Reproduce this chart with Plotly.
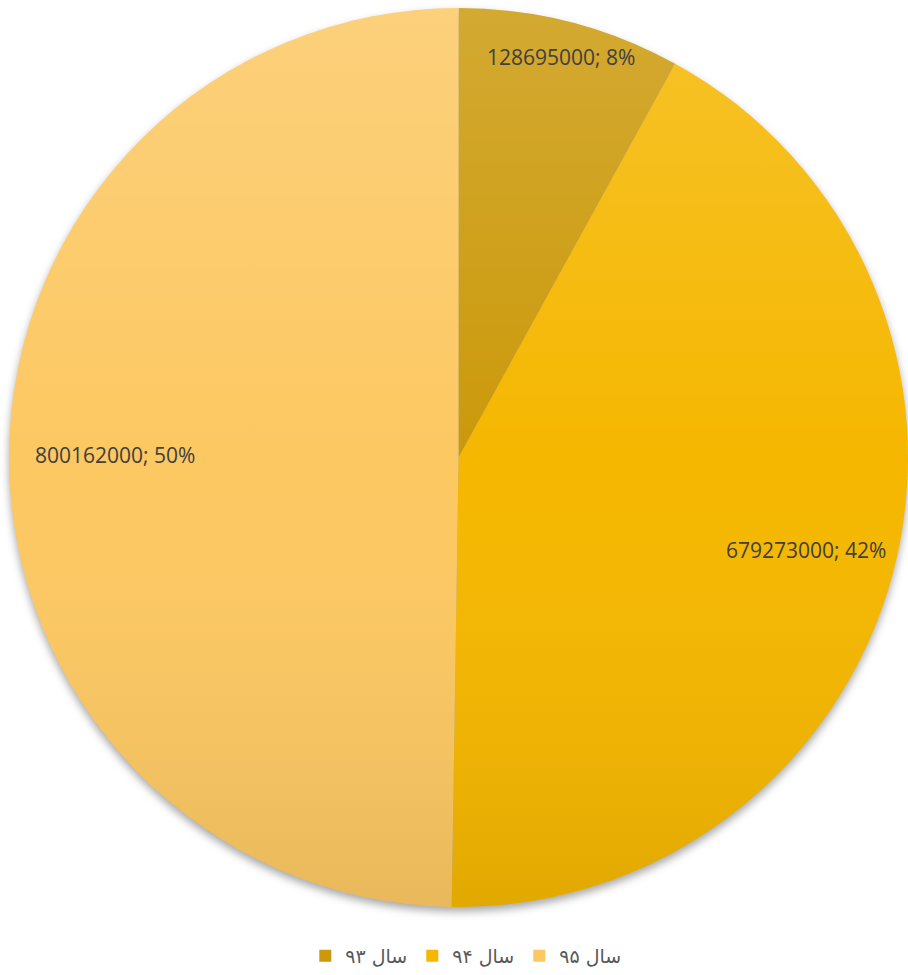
import base64
import math
import plotly.graph_objects as go

# Budget per year
categories = ["سال ۹۳", "سال ۹۴", "سال ۹۵"]
values = [128695000, 679273000, 800162000]
colors = ["#CB990A", "#F5B700", "#FCC862"]

# radial position of each value label (fraction of radius)
label_radius = [0.92, 0.80, 0.765]

W, H = 908, 975
dom_x = [0.01, 1.0]
dom_y = [(H - 907.5) / H, (H - 7.5) / H]

cx = (dom_x[0] + dom_x[1]) / 2
cy = (dom_y[0] + dom_y[1]) / 2
r_px = min((dom_x[1] - dom_x[0]) * W, (dom_y[1] - dom_y[0]) * H) / 2

fig = go.Figure(
    go.Pie(
        labels=categories,
        values=values,
        sort=False,
        direction="clockwise",
        rotation=0,
        textinfo="none",
        marker=dict(colors=colors, line=dict(width=0)),
        domain=dict(x=dom_x, y=dom_y),
        hoverinfo="label+value+percent",
    )
)

# value labels at mid-angle of each slice
total = sum(values)
cum = 0
annotations = []
for v, f in zip(values, label_radius):
    mid = (cum + v / 2) / total * 2 * math.pi
    cum += v
    pct = round(v / total * 100)
    ax = cx + r_px * f * math.sin(mid) / W
    ay = cy + r_px * f * math.cos(mid) / H
    annotations.append(
        dict(
            x=ax, y=ay, xref="paper", yref="paper",
            text=f"{v}; {pct}%", showarrow=False,
            font=dict(family="Open Sans", size=21, color="#404040"),
            xanchor="center", yanchor="middle",
        )
    )


def svg_uri(svg):
    return "data:image/svg+xml;base64," + base64.b64encode(svg.encode()).decode()


shade_svg = (
    '<svg xmlns="http://www.w3.org/2000/svg" viewBox="0 0 100 100" width="100" height="100">'
    '<defs><linearGradient id="g" x1="0" y1="0" x2="0" y2="1">'
    '<stop offset="0" stop-color="#ffffff" stop-opacity="0.16"/>'
    '<stop offset="0.5" stop-color="#ffffff" stop-opacity="0"/>'
    '<stop offset="1" stop-color="#000000" stop-opacity="0.08"/>'
    '</linearGradient></defs>'
    '<circle cx="50" cy="50" r="50" fill="url(#g)"/></svg>'
)

shadow_svg = (
    '<svg xmlns="http://www.w3.org/2000/svg" viewBox="-10 -10 120 120" width="120" height="120">'
    '<defs><filter id="b" x="-20%" y="-20%" width="140%" height="140%">'
    '<feGaussianBlur stdDeviation="0.5"/></filter></defs>'
    '<circle cx="50" cy="50.5" r="50" fill="#000000" fill-opacity="0.35" filter="url(#b)"/></svg>'
)

rw, rh = r_px / W, r_px / H
fig.update_layout(
    width=W,
    height=H,
    margin=dict(l=0, r=0, t=0, b=0),
    paper_bgcolor="white",
    plot_bgcolor="white",
    annotations=annotations,
    images=[
        dict(source=svg_uri(shadow_svg), xref="paper", yref="paper",
             x=cx - 1.2 * rw, y=cy + 1.2 * rh, sizex=2.4 * rw, sizey=2.4 * rh,
             xanchor="left", yanchor="top", sizing="stretch", layer="below"),
        dict(source=svg_uri(shade_svg), xref="paper", yref="paper",
             x=cx - rw, y=cy + rh, sizex=2 * rw, sizey=2 * rh,
             xanchor="left", yanchor="top", sizing="stretch", layer="above"),
    ],
    showlegend=True,
    legend=dict(
        orientation="h",
        x=0.513, xanchor="center",
        y=0.0, yanchor="bottom",
        font=dict(family="DejaVu Sans", size=19, color="#595959"),
        traceorder="normal",
    ),
)

fig.write_html("out.html")
